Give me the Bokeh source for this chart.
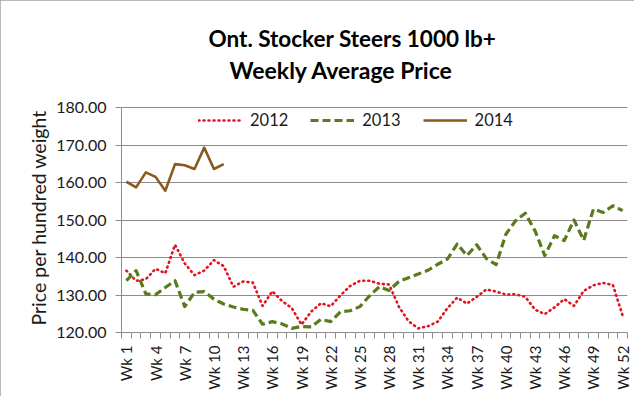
from bokeh.plotting import figure
from bokeh.models import Range1d, FixedTicker, Legend, LegendItem, Label, Title
from bokeh.embed import file_html
from bokeh.resources import INLINE
import math

weeks = list(range(1, 53))
tick_weeks = [1, 4, 7, 10, 13, 16, 19, 22, 25, 28, 31, 34, 37, 40, 43, 46, 49, 52]
tick_labels = ["Wk 1", "Wk 4", "Wk 7", "Wk 10", "Wk 13", "Wk 16", "Wk 19", "Wk 22", "Wk 25",
               "Wk 28", "Wk 31", "Wk 34", "Wk 37", "Wk 40", "Wk 43", "Wk 46", "Wk 49", "Wk 52"]
y_ticks = [120, 130, 140, 150, 160, 170, 180]

price_2012 = [136.5, 133.8, 134.2, 137.0, 135.8, 143.4, 138.4, 135.3, 136.5, 139.3,
              137.7, 132.2, 133.6, 133.3, 127.1, 131.0, 128.4, 126.5, 122.1, 125.6,
              127.8, 127.0, 129.9, 132.4, 133.8, 133.8, 133.0, 132.8, 126.9, 123.0,
              121.1, 121.7, 122.9, 126.5, 129.3, 127.7, 129.5, 131.5, 130.9, 130.1,
              130.2, 129.5, 126.1, 124.9, 126.7, 128.9, 127.1, 131.1, 132.6, 133.2,
              132.7, 124.5]
price_2013 = [133.8, 136.5, 130.3, 130.1, 132.0, 133.8, 126.9, 130.7, 130.9, 128.9,
              127.6, 126.8, 126.2, 125.9, 122.2, 122.9, 122.3, 121.1, 121.6, 121.5,
              123.5, 122.9, 125.5, 125.8, 126.9, 129.8, 132.2, 131.2, 133.6, 134.6,
              135.6, 136.6, 138.2, 139.6, 143.6, 140.5, 143.4, 139.7, 138.1, 146.2,
              149.8, 151.8, 147.1, 140.5, 145.8, 144.5, 150.0, 144.6, 152.9, 152.0,
              153.8, 152.5]
price_2014 = [160.2, 158.7, 162.7, 161.5, 157.8, 164.9, 164.6, 163.6, 169.3, 163.6, 164.9]

title_line1 = "Ont. Stocker Steers 1000 lb+"
title_line2 = "Weekly Average Price"
y_title = "Price per hundred weight"

FONT = "Lato"
GREY = "#8c8c8c"

# frame extends to the top so the two title lines can sit inside it;
# the visible value scale (axis, grid) is limited to 120..180
p = figure(width=634, height=396, output_backend="svg", toolbar_location=None,
           x_range=Range1d(0.5, 52.5), y_range=Range1d(120, 120 + 60 * 324 / 225),
           min_border_left=121, min_border_right=7, min_border_top=8, min_border_bottom=64)
p.title = None
p.styles = {"outline": "1px solid #a0a0a0", "outline-offset": "-1px"}
p.outline_line_color = None
p.xgrid.grid_line_color = None
p.ygrid.grid_line_color = GREY
p.ygrid.ticker = FixedTicker(ticks=y_ticks)

r12 = p.line(weeks, price_2012, line_color="#E0161E", line_width=2.6, line_dash="1 4",
             line_cap="round", line_join="round")
r13 = p.line(weeks, price_2013, line_color="#5B7A1E", line_width=3.2, line_dash="8 4",
             line_join="round")
r14 = p.line(weeks[:len(price_2014)], price_2014, line_color="#8A5A1B", line_width=2.6,
             line_join="round")

# x axis
xa = p.xaxis[0]
xa.ticker = FixedTicker(ticks=tick_weeks, minor_ticks=[w - 0.5 for w in weeks] + [52.5])
xa.major_label_overrides = {w: l for w, l in zip(tick_weeks, tick_labels)}
xa.major_label_orientation = math.pi / 2
xa.major_tick_line_color = None
xa.major_tick_out = 6
xa.major_tick_in = 0
xa.minor_tick_line_color = GREY
xa.minor_tick_out = 6
xa.minor_tick_in = 0
xa.axis_line_color = GREY
xa.major_label_standoff = 7
xa.major_label_text_font = FONT
xa.major_label_text_font_size = "15px"
xa.major_label_text_color = "#1a1a1a"

# y axis
ya = p.yaxis[0]
ya.bounds = (120, 180)
ya.ticker = FixedTicker(ticks=y_ticks, minor_ticks=[])
ya.major_label_overrides = {v: f"{v:.2f}" for v in y_ticks}
ya.axis_line_color = GREY
ya.major_tick_line_color = GREY
ya.major_tick_out = 6
ya.major_tick_in = 0
ya.minor_tick_line_color = None
ya.major_label_standoff = 9
ya.major_label_text_font = FONT
ya.major_label_text_font_size = "16px"
ya.major_label_text_color = "#1a1a1a"

# y-axis title as a side title, aligned from the bottom of the frame
p.add_layout(Title(text=y_title, align="left", offset=7, standoff=8, text_font=FONT,
                   text_font_style="normal", text_font_size="19.5px",
                   text_color="#1a1a1a"), "left")

legend = Legend(items=[LegendItem(label="2012", renderers=[r12]),
                       LegendItem(label="2013", renderers=[r13]),
                       LegendItem(label="2014", renderers=[r14])],
                orientation="horizontal", location=(77, 202))
legend.padding = 0
legend.margin = 0
legend.spacing = 22
legend.glyph_width = 44
legend.glyph_height = 20
legend.label_standoff = 8
legend.border_line_color = None
legend.background_fill_alpha = 0
legend.label_text_font = FONT
legend.label_text_font_size = "16.5px"
legend.label_text_color = "#1a1a1a"
p.add_layout(legend, "center")

p.add_layout(Label(x=87, y=294, x_units="screen", y_units="screen", text=title_line1,
                   text_align="left", text_baseline="middle", text_font=FONT,
                   text_font_style="bold", text_font_size="22.5px", text_color="#000000"))
p.add_layout(Label(x=108, y=263, x_units="screen", y_units="screen", text=title_line2,
                   text_align="left", text_baseline="middle", text_font=FONT,
                   text_font_style="bold", text_font_size="23px", text_color="#000000"))

open("out.html", "w").write(file_html(p, INLINE))
